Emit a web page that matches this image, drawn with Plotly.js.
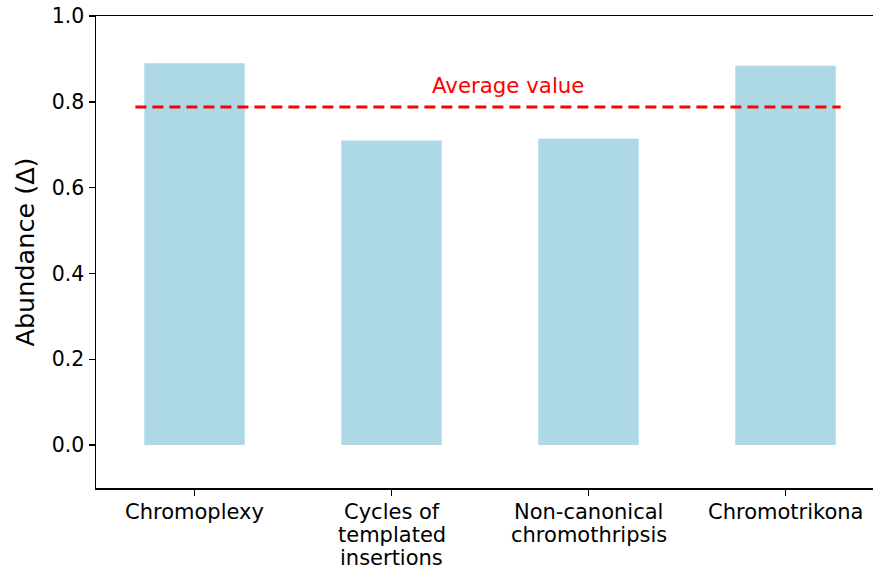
<!DOCTYPE html>
<html>
<head>
<meta charset="utf-8">
<script src="https://cdn.plot.ly/plotly-3.0.1.min.js"></script>
<style>
html, body { margin: 0; padding: 0; overflow: hidden; background: #fff; }
#chart { width: 884px; height: 576px; }
</style>
</head>
<body>
<div id="chart"></div>
<script>
const categories = ["Chromoplexy", "Cycles of<br>templated<br>insertions", "Non-canonical<br>chromothripsis", "Chromotrikona"];
const abundance = [0.890, 0.710, 0.714, 0.884];
const averageValue = 0.788;
const averageLabel = "Average value";
const yTickValues = [0.0, 0.2, 0.4, 0.6, 0.8, 1.0];

const xIdx = categories.map((_, i) => i);
const font = "DejaVu Sans, sans-serif";

const traces = [{
  type: "bar",
  x: xIdx,
  y: abundance,
  width: 0.51,
  marker: { color: "#ADD8E6", line: { width: 0 } },
  hoverinfo: "skip"
}];

// x tick labels drawn line by line (tighter line spacing than Plotly's default)
const tickLabelAnnotations = [];
categories.forEach((cat, i) => {
  cat.split("<br>").forEach((line, j) => {
    tickLabelAnnotations.push({
      xref: "x", yref: "paper",
      x: i, y: 0,
      yanchor: "middle",
      yshift: -(24 + 23 * j),
      text: line,
      showarrow: false,
      font: { family: font, size: 21, color: "#000" }
    });
  });
});

const layout = {
  width: 884,
  height: 576,
  margin: { l: 95.7, r: 0, t: 15.7, b: 87.7 },
  paper_bgcolor: "#fff",
  plot_bgcolor: "#fff",
  showlegend: false,
  font: { family: font, size: 20, color: "#000" },
  xaxis: {
    range: [-0.5, 3.5],
    tickvals: xIdx,
    ticktext: categories,
    showticklabels: false,
    ticks: "outside",
    ticklen: 6,
    tickwidth: 1.5,
    tickcolor: "#000",
    showline: true,
    linecolor: "#000",
    linewidth: 1.5,
    mirror: true,
    showgrid: false,
    zeroline: false
  },
  yaxis: {
    range: [-0.1, 1.0],
    tickvals: yTickValues,
    tickformat: ".1f",
    ticks: "outside",
    ticklen: 6,
    tickwidth: 1.5,
    tickcolor: "#000",
    showline: true,
    linecolor: "#000",
    linewidth: 1.5,
    mirror: true,
    showgrid: false,
    zeroline: false,
    tickfont: { family: font, size: 20.5, color: "#000" },
    title: { text: "Abundance (Δ)", font: { family: font, size: 25.5, color: "#000" }, standoff: 10 }
  },
  shapes: [{
    type: "line",
    xref: "x", yref: "y",
    x0: -0.3, x1: 3.28,
    y0: averageValue, y1: averageValue,
    line: { color: "#FF0000", width: 3, dash: "11px,6px" }
  }],
  annotations: [{
    xref: "x", yref: "y",
    x: 1.59, y: averageValue,
    yshift: 21,
    text: averageLabel,
    showarrow: false,
    font: { family: font, size: 21.3, color: "#FF0000" }
  }].concat(tickLabelAnnotations)
};

Plotly.newPlot("chart", traces, layout, { displayModeBar: false, staticPlot: true });
</script>
</body>
</html>
